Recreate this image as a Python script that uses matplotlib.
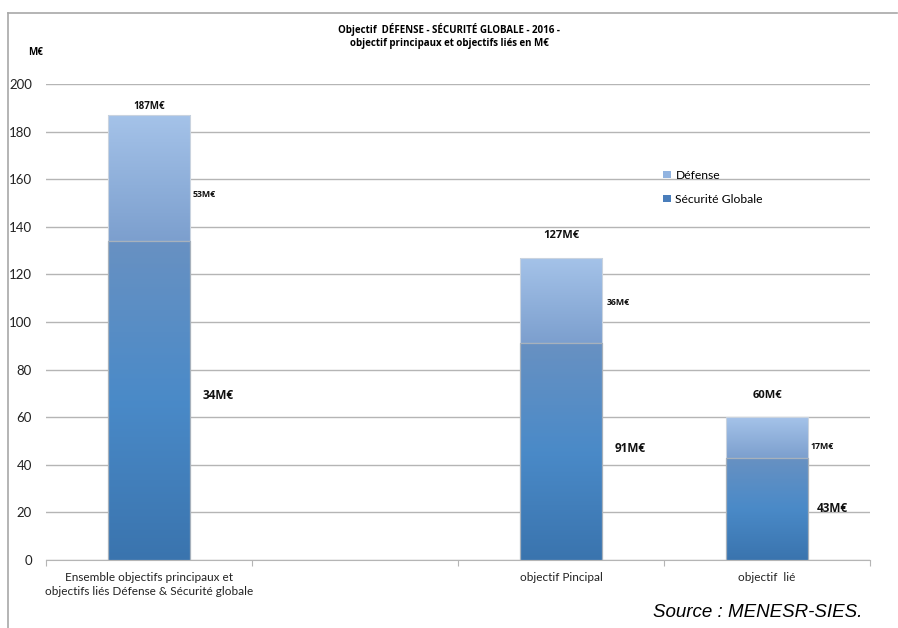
"""Stacked bars of the 2016 Défense / Sécurité globale objective budget, in M€."""

import matplotlib

matplotlib.use("Agg")
import matplotlib.pyplot as plt
import numpy as np
from matplotlib.colors import LinearSegmentedColormap
from matplotlib.lines import Line2D
from matplotlib.patches import Patch

plt.rcParams["font.family"] = ["Lato", "DejaVu Sans"]
BOLD_FONT = ["Open Sans", "DejaVu Sans"]

categories = [
    "Ensemble objectifs principaux et\nobjectifs liés Défense & Sécurité globale",
    "",
    "objectif Pincipal",
    "objectif  lié",
]
securite = [134, np.nan, 91, 43]
defense = [53, np.nan, 36, 17]
totals = [187, np.nan, 127, 60]

total_labels = ["187M€", "", "127M€", "60M€"]
defense_labels = ["53M€", "", "36M€", "17M€"]
securite_labels = ["34M€", "", "91M€", "43M€"]

# label anchors (x offset from bar centre, y in M€)
total_label_y = [190.5, None, 136.5, 69.0]
defense_label_pos = [(0.21, 153.5), None, (0.22, 108.0), (0.21, 47.5)]
securite_label_pos = [(0.26, 69.0), None, (0.26, 47.0), (0.24, 21.5)]

yticks = list(range(0, 201, 20))

sec_cmap = LinearSegmentedColormap.from_list(
    "sec", ["#3a74ae", "#4a8ac8", "#6891c2"]
)
def_cmap = LinearSegmentedColormap.from_list("def", ["#7c9fce", "#a5c3e9"])


def gradient_fill(ax, bars, cmap):
    """Paint a vertical gradient inside each bar patch."""
    grad = np.linspace(0, 1, 256).reshape(-1, 1)
    for bar in bars:
        if not np.isfinite(bar.get_height()) or bar.get_height() == 0:
            continue
        x0, y0 = bar.get_x(), bar.get_y()
        x1, y1 = x0 + bar.get_width(), y0 + bar.get_height()
        img = ax.imshow(
            grad,
            cmap=cmap,
            extent=(x0, x1, y0, y1),
            origin="lower",
            aspect="auto",
            zorder=bar.get_zorder() - 0.1,
            interpolation="bilinear",
        )
        img.set_clip_path(bar)


fig = plt.figure(figsize=(8.98, 6.28), dpi=100)
ax = fig.add_axes([0.0512, 0.1083, 0.9176, 0.7579])

x = np.arange(len(categories))
width = 0.4
sec_bars = ax.bar(
    x, securite, width, color="none", edgecolor="#a7b1bc", linewidth=0.9, zorder=3
)
def_bars = ax.bar(
    x,
    defense,
    width,
    bottom=securite,
    color="none",
    edgecolor="#c9d3df",
    linewidth=0.8,
    zorder=2.9,
)
gradient_fill(ax, sec_bars, sec_cmap)
gradient_fill(ax, def_bars, def_cmap)

ax.set_xlim(-0.5, len(categories) - 0.5)
ax.set_ylim(0, 200)
ax.set_yticks(yticks)
ax.yaxis.grid(True, color="#b5b5b5", linewidth=1.0, zorder=0)
ax.set_axisbelow(True)
for side in ("top", "right", "left"):
    ax.spines[side].set_visible(False)
ax.spines["bottom"].set_color("#b5b5b5")
ax.tick_params(axis="y", length=0, labelsize=9.5, pad=10, colors="#222222")
ax.set_xticks(np.arange(-0.5, len(categories), 1.0))
ax.set_xticklabels([])
ax.tick_params(axis="x", length=4, color="#b5b5b5", direction="out")
for xi, name in zip(x, categories):
    ax.text(
        xi, -5, name, ha="center", va="top", fontsize=8.5, color="#222222",
        linespacing=1.35,
    )

for i in range(len(categories)):
    if not np.isfinite(totals[i]):
        continue
    ax.text(
        x[i], total_label_y[i], total_labels[i],
        ha="center", va="center", fontsize=8 if i else 7,
        fontweight="bold", color="#111111", family=BOLD_FONT,
    )
    dx, dy = defense_label_pos[i]
    ax.text(
        x[i] + dx, dy, defense_labels[i], ha="left", va="center",
        fontsize=6.3, fontweight="bold", color="#111111", family=BOLD_FONT,
    )
    dx, dy = securite_label_pos[i]
    ax.text(
        x[i] + dx, dy, securite_labels[i], ha="left", va="center",
        fontsize=8.5, fontweight="bold", color="#111111", family=BOLD_FONT,
    )

handles = [
    Patch(facecolor="#92b4e0", edgecolor="none", label="Défense"),
    Patch(facecolor="#4a7ebb", edgecolor="none", label="Sécurité Globale"),
]
ax.legend(
    handles=handles,
    loc="upper left",
    bbox_to_anchor=(0.736, 0.843),
    frameon=False,
    fontsize=8.7,
    handlelength=0.6,
    handleheight=0.6,
    handletextpad=0.4,
    labelspacing=1.1,
)

fig.text(0.5, 0.953, "Objectif  DÉFENSE - SÉCURITÉ GLOBALE - 2016 -",
         ha="center", va="center", fontsize=7, fontweight="bold",
         family=BOLD_FONT)
fig.text(0.5, 0.931, "objectif principaux et objectifs liés en M€",
         ha="center", va="center", fontsize=7, fontweight="bold",
         family=BOLD_FONT)
fig.text(0.031, 0.916, "M€", ha="left", va="center", fontsize=7,
         fontweight="bold", family=BOLD_FONT)
fig.text(0.96, 0.025, "Source : MENESR-SIES.", ha="right", va="center",
         fontsize=13.5, style="italic", family="Liberation Sans")

# thin frame along the top and left edges
frame_kw = dict(color="#a8a8a8", linewidth=1.2, transform=fig.transFigure)
fig.add_artist(Line2D([0.009, 0.999], [0.979, 0.979], **frame_kw))
fig.add_artist(Line2D([0.009, 0.009], [0.0, 0.979], **frame_kw))

fig.savefig("out.png", dpi=100)
